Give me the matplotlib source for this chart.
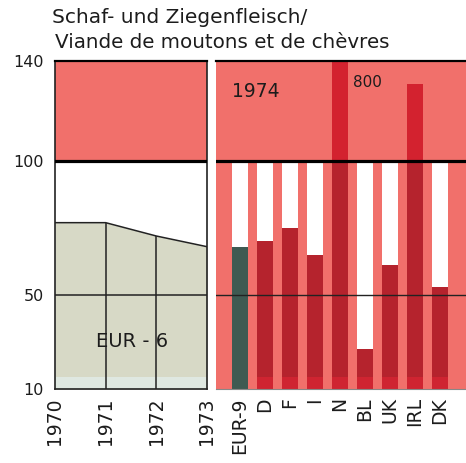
import numpy as np
import matplotlib.pyplot as plt

# data
years = [1970, 1971, 1972, 1973]
eur6 = [77, 77, 72, 68]
countries = ["EUR-9", "D", "F", "I", "N", "BL", "UK", "IRL", "DK"]
values_1974 = [68, 70, 75, 65, 800, 27, 61, 131, 53]

# the printed axis is not quite linear: map values to pixel heights
v_pts = [0, 10, 50, 100, 140, 1000]
p_pts = [-23.5, 0, 94, 227, 327, 327 + 860 * 2.5]


def fwd(v):
    return np.interp(v, v_pts, p_pts)


def inv(p):
    return np.interp(p, p_pts, v_pts)


salmon = "#f1706b"
bar_red = "#b5232d"
bar_red_lo = "#cf2431"
bar_red_hi = "#d3222f"
eur9_col = "#3e5a52"
fill_col = "#d7d9c6"
strip_col = "#dfe8e1"
ink = "#1c1c1c"

fig = plt.figure(figsize=(4.66, 4.63), dpi=100)
axL = fig.add_axes([55 / 466, 74 / 463, 152 / 466, 328 / 463])
axR = fig.add_axes([216 / 466, 74 / 463, 250 / 466, 328 / 463])

for ax in (axL, axR):
    ax.set_yscale("function", functions=(fwd, inv))
    ax.set_ylim(10, 140)
    ax.set_yticks([10, 50, 100, 140])
    ax.tick_params(length=0)

# Left panel: EUR-6 1970-1973
axL.set_xlim(1970, 1973)
axL.axhspan(100, 140, color=salmon, lw=0, zorder=0)
axL.fill_between(years, 10, eur6, color=fill_col, lw=0, zorder=1)
axL.fill_between(years, 10, 15, color=strip_col, lw=0, zorder=1)
axL.vlines(years[1:3], 10, eur6[1:3], color="#222222", lw=1.1, zorder=2)
axL.plot(years, eur6, color="#222222", lw=1.1, zorder=3)
axL.axhline(50, color="#222222", lw=1.1, zorder=3)
axL.axhline(100, color="black", lw=2.3, zorder=4)
axL.text(1971.53, 30, "EUR - 6", fontsize=14, ha="center", va="center",
         color=ink, zorder=5)
axL.set_xticks(years)
axL.set_xticklabels([str(y) for y in years], rotation=90, fontsize=13.5,
                    color=ink)
axL.set_yticklabels(["10", "50", "100", "140"], fontsize=11.5, color=ink)
axL.tick_params(axis="y", pad=8)
axL.tick_params(axis="x", pad=6)
for s in ("left", "right", "bottom"):
    axL.spines[s].set_linewidth(1.2)
    axL.spines[s].set_color("#222222")
axL.spines["top"].set_linewidth(1.6)

# Right panel: 1974 by country
x = np.arange(len(countries))
w = 0.64
axR.set_facecolor(salmon)
axR.set_xlim(-0.96, 9.04)
for i, v in enumerate(values_1974):
    col = eur9_col if i == 0 else bar_red
    if v < 100:
        axR.bar(x[i], 100 - v, bottom=v, width=w, color="white", lw=0, zorder=2)
        axR.bar(x[i], v - 10, bottom=10, width=w, color=col, lw=0, zorder=2)
    else:
        axR.bar(x[i], 90, bottom=10, width=w, color=col, lw=0, zorder=2)
        axR.bar(x[i], v - 100, bottom=100, width=w, color=bar_red_hi, lw=0,
                zorder=2)
    if i > 0:
        axR.bar(x[i], 5, bottom=10, width=w, color=bar_red_lo, lw=0, zorder=2)
axR.axhline(50, color="#222222", lw=1.0, zorder=3)
axR.axhline(100, color="black", lw=2.3, zorder=4)
axR.text(0.62, 128, "1974", fontsize=13.5, ha="center", va="center",
         color=ink, zorder=5)
axR.text(5.1, 131.5, "800", fontsize=11, ha="center", va="center",
         color=ink, zorder=5)
axR.set_xticks(x)
axR.set_xticklabels(countries, rotation=90, fontsize=13.5, color=ink)
axR.tick_params(axis="x", pad=6)
axR.set_yticklabels([])
for s in ("left", "right"):
    axR.spines[s].set_visible(False)
axR.spines["bottom"].set_color("#888888")
axR.spines["bottom"].set_linewidth(0.8)
axR.spines["top"].set_linewidth(1.6)

fig.text(52 / 466, 1 - 8 / 463, "Schaf- und Ziegenfleisch/", fontsize=14.5,
         va="top", color=ink)
fig.text(55 / 466, 1 - 33 / 463, "Viande de moutons et de chèvres",
         fontsize=14.3, va="top", color=ink)

fig.savefig("out.png", dpi=100)
